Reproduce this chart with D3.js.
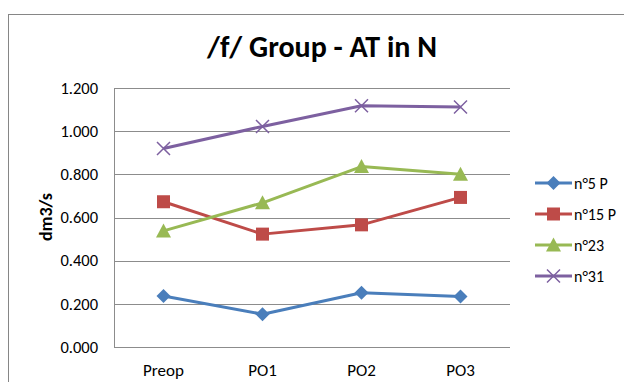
<!DOCTYPE html>
<head>
  <meta charset="utf-8">
  <script src="https://d3js.org/d3.v7.min.js"></script>
  <style>
body { margin: 0; background: #fff; }
text { font-family: Carlito, "Open Sans", "Liberation Sans", sans-serif; fill: #000; }
.grid line { stroke: #8c8c8c; stroke-width: 1; }
  </style>
</head>
<body>
  <script>
    // chart data
    var categories = ["Preop", "PO1", "PO2", "PO3"];
    var seriesNames = ["n°5 P", "n°15 P", "n°23", "n°31"];
    var n5 = [0.236, 0.152, 0.251, 0.234];
    var n15 = [0.673, 0.523, 0.566, 0.693];
    var n23 = [0.538, 0.668, 0.836, 0.800];
    var n31 = [0.920, 1.022, 1.118, 1.112];
    var yTicks = [0, 0.2, 0.4, 0.6, 0.8, 1.0, 1.2];

    var colors = ["#4a7ebb", "#be4b48", "#98b954", "#7d60a0"];
    var shapes = ["diamond", "square", "triangle", "cross"];
    var series = [n5, n15, n23, n31];

    var svg = d3.select("body").append("svg")
      .attr("width", 624)
      .attr("height", 382);

    // outer chart frame (runs off the page right & bottom)
    svg.append("rect")
      .attr("x", 8.5).attr("y", 14.5)
      .attr("width", 700).attr("height", 500)
      .attr("fill", "none").attr("stroke", "#868686");

    var plotL = 114, plotR = 510, plotT = 88, plotB = 347;

    var x = d3.scaleBand().domain(categories).range([plotL, plotR]);
    var y = d3.scaleLinear().domain([0, 1.2]).range([plotB, plotT]);

    // gridlines
    svg.append("g").attr("class", "grid")
      .selectAll("line")
      .data(yTicks)
      .enter().append("line")
      .attr("x1", plotL).attr("x2", plotR)
      .attr("y1", d => Math.round(y(d)) + 0.5)
      .attr("y2", d => Math.round(y(d)) + 0.5);

    svg.append("line")
      .attr("x1", plotL + 0.5).attr("x2", plotL + 0.5)
      .attr("y1", plotT).attr("y2", plotB)
      .attr("stroke", "#8c8c8c");

    // y tick labels
    svg.append("g").selectAll("text")
      .data(yTicks)
      .enter().append("text")
      .attr("x", 98)
      .attr("y", d => y(d))
      .attr("dy", "0.35em")
      .attr("text-anchor", "end")
      .style("font-size", "16.5px")
      .text(d => d3.format(".3f")(d));

    // x labels
    svg.append("g").selectAll("text")
      .data(categories)
      .enter().append("text")
      .attr("x", d => x(d) + x.bandwidth() / 2)
      .attr("y", 370)
      .attr("dy", "0.35em")
      .attr("text-anchor", "middle")
      .style("font-size", "17px")
      .text(d => d);

    // axis title
    svg.append("text")
      .attr("transform", "translate(46,217) rotate(-90)")
      .attr("text-anchor", "middle")
      .attr("dy", "0.35em")
      .style("font-size", "18px")
      .style("font-weight", "bold")
      .text("dm3/s");

    // chart title
    svg.append("text")
      .attr("x", 322).attr("y", 46)
      .attr("text-anchor", "middle")
      .attr("dy", "0.35em")
      .style("font-size", "30px")
      .style("font-weight", "bold")
      .text("/f/ Group - AT in N");

    function marker(g, shape, color) {
      if (shape === "diamond") {
        g.append("path").attr("d", "M0,-7L7,0L0,7L-7,0Z").attr("fill", color);
      } else if (shape === "square") {
        g.append("rect").attr("x", -6.5).attr("y", -6.5).attr("width", 13).attr("height", 13).attr("fill", color);
      } else if (shape === "triangle") {
        g.append("path").attr("d", "M0,-7.5L7.5,6.5L-7.5,6.5Z").attr("fill", color);
      } else {
        g.append("path").attr("d", "M-6.5,-6.5L6.5,6.5M-6.5,6.5L6.5,-6.5").attr("stroke", color).attr("stroke-width", 1.5).attr("fill", "none");
      }
    }

    var line = d3.line()
      .x((d, i) => x(categories[i]) + x.bandwidth() / 2)
      .y(d => y(d));

    series.forEach(function(vals, s) {
      svg.append("path")
        .attr("d", line(vals))
        .attr("fill", "none")
        .attr("stroke", colors[s])
        .attr("stroke-width", 3)
        .attr("stroke-linejoin", "round");
      vals.forEach(function(v, i) {
        var g = svg.append("g")
          .attr("transform", "translate(" + (x(categories[i]) + x.bandwidth() / 2) + "," + y(v) + ")");
        marker(g, shapes[s], colors[s]);
      });
    });

    // legend
    var legend = svg.append("g").selectAll("g")
      .data(seriesNames)
      .enter().append("g")
      .attr("transform", (d, i) => "translate(535," + (183 + i * 31) + ")");

    legend.append("line")
      .attr("x1", 0).attr("x2", 37)
      .attr("stroke", (d, i) => colors[i])
      .attr("stroke-width", 3);

    legend.each(function(d, i) {
      marker(d3.select(this).append("g").attr("transform", "translate(18.5,0)"), shapes[i], colors[i]);
    });

    legend.append("text")
      .attr("x", 39)
      .attr("dy", "0.35em")
      .style("font-size", "16px")
      .text(d => d);
  </script>
</body>
